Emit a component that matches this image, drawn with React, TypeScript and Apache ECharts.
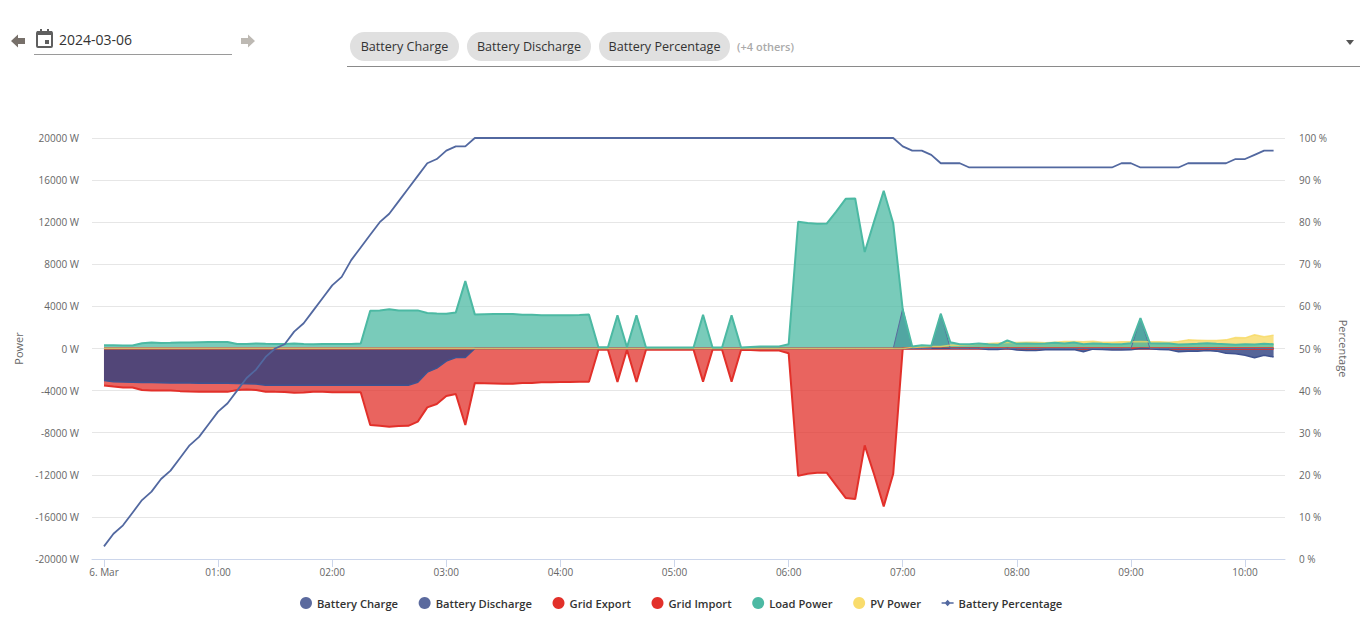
import React, { useEffect, useRef } from "react";
import * as echarts from "echarts";

const stepMinutes = 5;
const hourTicks = [0, 60, 120, 180, 240, 300, 360, 420, 480, 540, 600];
const powerTicksInterval = 4000;
const chips = ["Battery Charge", "Battery Discharge", "Battery Percentage"];
const legendNames = ["Battery Charge", "Battery Discharge", "Grid Export", "Grid Import", "Load Power", "PV Power", "Battery Percentage"];

const loadPower = [
  300,300,290,290,500,570,530,540,560,570,600,610,620,620,430,430,480,440,420,420,470,430,400,420,430,430,430,470,
  3590,3620,3720,3600,3600,3620,3380,3320,3300,3430,6400,
  3240,3260,3280,3280,3280,3200,3200,3150,3150,3170,3170,3190,3220,
  120,120,3150,120,3150,100,100,100,100,100,100,3200,100,100,3150,100,150,200,200,200,400,
  12040,11920,11850,11870,13000,14220,14250,9170,12100,14980,11900,3700,200,300,250,3300,600,400,
  410,475,410,350,760,440,475,440,475,540,475,570,410,475,440,410,410,500,2880,500,475,475,380,410,440,500,440,410,350,410,380,440,410,
];
const gridImport = [
  -3520,-3620,-3700,-3700,-3950,-4000,-4000,-4000,-4050,-4080,-4100,-4120,-4120,-4120,-3950,-3900,-3950,-4100,-4120,-4130,-4200,-4180,-4120,-4120,-4150,-4150,-4150,-4150,
  -7270,-7350,-7430,-7370,-7350,-6950,-5590,-5270,-4510,-4320,-7270,
  -3280,-3300,-3320,-3340,-3340,-3280,-3280,-3200,-3200,-3180,-3180,-3160,-3160,
  -120,-120,-3180,-120,-3180,-120,-120,-120,-120,-120,-120,-3150,-120,-120,-3150,-120,-150,-180,-180,-200,-450,
  -12100,-11900,-11800,-11800,-13000,-14200,-14300,-9200,-12000,-15000,-11900,
  0,0,0,0,0,0,0,0,0,0,0,0,0,0,0,0,0,0,0,0,
  0,0,0,0,0,0,0,0,0,0,0,0,0,0,0,0,0,0,0,0,
];
const batteryDischarge = [
  -3040,-3150,-3180,-3200,-3220,-3240,-3250,-3270,-3270,-3280,-3290,-3300,-3300,-3300,-3320,-3340,-3370,
  -3500,-3500,-3500,-3500,-3500,-3500,-3500,-3500,-3500,-3500,-3500,-3500,-3500,-3500,-3500,-3500,
  -3200,-2250,-1870,-1200,-860,-850,
  0,0,0,0,0,0,0,0,0,0,0,0,0,0,0,0,0,0,0,0,0,0,0,0,0,0,0,
  0,0,0,0,0,0,0,0,0,0,0,0,0,0,0,0,0,0,0,0,0,0,0,0,0,0,0,
  -100,-100,0,-150,-200,-180,-120,-130,-130,-100,-300,-60,-100,-150,-150,-130,0,-20,-100,-130,-300,-250,-250,-200,-250,-450,-500,-650,-880,-650,-800,
];
const batteryCharge = [
  0,0,0,0,0,0,0,0,0,0,0,0,0,0,0,0,0,0,0,0,0,0,0,0,0,0,0,0,
  0,0,0,0,0,0,0,0,0,0,0,0,0,0,0,0,0,0,0,0,0,0,0,0,0,0,0,0,
  0,0,0,0,0,0,0,0,0,0,0,0,0,0,0,0,0,0,0,0,0,0,0,0,0,0,0,0,
  3800,0,0,0,3300,
  0,0,0,0,0,0,0,0,0,0,0,0,0,0,0,0,0,0,0,0,
  2880,
  0,0,0,0,0,0,0,0,0,0,0,0,0,0,
];
const gridExport = [
  0,0,0,0,0,0,0,0,0,0,0,0,0,0,0,0,0,0,0,0,0,0,0,0,0,0,0,0,0,0,0,
  0,0,0,0,0,0,0,0,0,0,0,0,0,0,0,0,0,0,0,0,0,0,0,0,0,0,0,0,0,0,0,
  0,0,0,0,0,0,0,0,0,0,0,0,0,0,0,0,0,0,0,0,0,0,0,0,0,0,0,0,0,0,0,
  0,0,0,0,0,0,0,0,0,0,0,0,0,0,0,0,0,0,0,0,0,0,0,0,0,0,0,0,0,0,0,
];
const pvPower = [
  0,0,0,0,0,0,0,0,0,0,0,0,0,0,0,0,0,0,0,0,0,0,0,0,0,0,0,0,0,0,
  0,0,0,0,0,0,0,0,0,0,0,0,0,0,0,0,0,0,0,0,0,0,0,0,0,0,0,0,0,0,
  0,0,0,0,0,0,0,0,0,0,0,0,0,0,0,0,0,0,0,0,0,0,0,0,0,
  100,150,200,200,300,300,350,420,470,520,560,
  570,600,600,540,600,660,660,630,700,600,600,630,630,660,630,630,600,660,
  820,790,760,760,820,1050,1010,1300,1110,1270,
];
const batteryPercent = [
  3,6,8,11,14,16,19,21,24,27,29,32,
  35,37,40,43,45,48,50,51,54,56,59,62,65,67,71,74,77,80,82,85,88,91,94,95,97,98,98,
  100,100,100,100,100,100,100,100,100,100,100,100,100,100,100,
  100,100,100,100,100,100,100,100,100,100,100,100,100,100,100,
  100,100,100,100,100,100,100,100,100,100,100,100,100,100,100,
  98,97,97,96,94,94,94,93,
  93,93,93,93,93,93,93,93,93,93,93,93,93,93,93,
  94,94,
  93,93,93,93,93,
  94,94,94,94,94,
  95,95,96,97,97,
];

const withTime = (arr: number[]) => arr.map((v, i) => [i * stepMinutes, v]);

const areaSeries = (name: string, data: number[], legendColor: string, lineColor: string, lineWidth: number, lineOpacity: number, fill: string, fillOpacity: number) => ({
  name,
  type: "line",
  data: withTime(data),
  showSymbol: false,
  symbol: "none",
  yAxisIndex: 0,
  itemStyle: { color: legendColor },
  lineStyle: { color: lineColor, width: lineWidth, opacity: lineOpacity },
  areaStyle: { color: fill, opacity: fillOpacity, origin: 0 },
});

const fmtHour = (v: number) => {
  if (v === 0) return "6. Mar";
  const h = Math.round(v / 60);
  return (h < 10 ? "0" : "") + h + ":00";
};

const percentIcon = "path://M0 5.2H4L6.5 2.6L9 5.2H13V6.8H9L6.5 9.4L4 6.8H0Z";

function chipGraphics() {
  const boxes = [[350, 109], [467, 124], [599, 131]];
  const out: any[] = [];
  chips.forEach((label, i) => {
    out.push({ type: "rect", shape: { x: boxes[i][0], y: 32, width: boxes[i][1], height: 29, r: 14.5 }, style: { fill: "#e0e0e0" } });
    out.push({ type: "text", style: { x: boxes[i][0] + boxes[i][1] / 2, y: 46.5, text: label, align: "center", verticalAlign: "middle", fill: "#333", font: "12.6px 'Open Sans'" } });
  });
  return out;
}

export default function App() {
  const ref = useRef<HTMLDivElement>(null);
  useEffect(() => {
    const chart = echarts.init(ref.current!, undefined, { renderer: "svg" });
    chart.setOption({
      animation: false,
      backgroundColor: "#fff",
      textStyle: { fontFamily: "'Open Sans'" },
      grid: { left: 92, right: 83, top: 138, bottom: 71, containLabel: false },
      legend: {
        show: true,
        left: 295,
        top: 592,
        itemWidth: 12,
        itemHeight: 12,
        itemGap: 20.6,
        textStyle: { color: "#333", fontSize: 11.2, fontWeight: 600, fontFamily: "'Open Sans'" },
        data: legendNames.map((name) =>
          name === "Battery Percentage" ? { name, icon: percentIcon } : { name, icon: "circle" }
        ),
      },
      xAxis: {
        type: "value",
        min: -6.3,
        max: 621,
        axisLine: { onZero: false, lineStyle: { color: "#ccd6eb", width: 1 } },
        axisTick: { show: true, length: 8, lineStyle: { color: "#ccd6eb" }, customValues: hourTicks },
        splitLine: { show: false },
        axisLabel: {
          color: "#666",
          fontSize: 10,
          margin: 8,
          customValues: hourTicks,
          formatter: (v: number) => fmtHour(v),
        },
      },
      yAxis: [
        {
          type: "value",
          min: -20000,
          max: 20000,
          interval: powerTicksInterval,
          name: "Power",
          nameLocation: "middle",
          nameRotate: 90,
          nameGap: 63,
          nameTextStyle: { color: "#666", fontSize: 11 },
          axisLine: { show: false },
          axisTick: { show: false },
          splitLine: { lineStyle: { color: "#e6e6e6", width: 1 } },
          axisLabel: { color: "#666", fontSize: 10, margin: 13, padding: [0, 0, 1, 0], formatter: (v: number) => v + " W" },
        },
        {
          type: "value",
          min: 0,
          max: 100,
          interval: 10,
          name: "Percentage",
          nameLocation: "middle",
          nameRotate: -90,
          nameGap: 48,
          nameTextStyle: { color: "#666", fontSize: 11 },
          position: "right",
          axisLine: { show: false },
          axisTick: { show: false },
          splitLine: { show: false },
          axisLabel: { color: "#666", fontSize: 10, margin: 14, padding: [0, 0, 1, 0], formatter: (v: number) => v + " %" },
        },
      ],
      series: [
        areaSeries("Grid Export", gridExport, "#e2302a", "#e2302a", 2, 1, "#e2302a", 0.75),
        areaSeries("Grid Import", gridImport, "#e2302a", "#e2302a", 2, 1, "#e2302a", 0.75),
        areaSeries("Battery Discharge", batteryDischarge, "#5b6a9e", "#3f5290", 1.5, 1, "#2c3e7e", 0.8),
        areaSeries("Battery Charge", batteryCharge, "#5b6a9e", "#5b6a9e", 1, 1, "#2c3e7e", 0.75),
        areaSeries("PV Power", pvPower, "#f9dc6c", "#f7d85f", 1.5, 0.75, "#f7d85f", 0.75),
        areaSeries("Load Power", loadPower, "#4cb9a3", "#4cb9a3", 2, 1, "#4cb9a3", 0.75),
        {
          name: "Battery Percentage",
          type: "line",
          yAxisIndex: 1,
          data: withTime(batteryPercent),
          showSymbol: false,
          symbol: "none",
          itemStyle: { color: "#5268a0" },
          lineStyle: { color: "#5268a0", width: 1.8 },
        },
      ],
      graphic: {
        elements: [
          { type: "polygon", shape: { points: [[11, 41], [18, 34.5], [18, 38], [25, 38], [25, 44], [18, 44], [18, 47.5]] }, style: { fill: "#77706a" } },
          { type: "rect", shape: { x: 37, y: 32, width: 15, height: 15, r: 1 }, style: { fill: "none", stroke: "#5f5f5f", lineWidth: 2 } },
          { type: "rect", shape: { x: 37, y: 31, width: 15, height: 4 }, style: { fill: "#5f5f5f" } },
          { type: "rect", shape: { x: 40, y: 29, width: 2, height: 3 }, style: { fill: "#5f5f5f" } },
          { type: "rect", shape: { x: 47, y: 29, width: 2, height: 3 }, style: { fill: "#5f5f5f" } },
          { type: "rect", shape: { x: 45, y: 40, width: 4, height: 4 }, style: { fill: "#5f5f5f" } },
          { type: "text", style: { x: 59, y: 39.5, text: "2024-03-06", verticalAlign: "middle", fill: "#333", font: "14px 'Open Sans'" } },
          { type: "line", shape: { x1: 34, y1: 54.5, x2: 232, y2: 54.5 }, style: { stroke: "#9a9a9a", lineWidth: 1 } },
          { type: "polygon", shape: { points: [[255, 41], [248, 34.5], [248, 38], [241, 38], [241, 44], [248, 44], [248, 47.5]] }, style: { fill: "#bdb9b3" } },
          ...chipGraphics(),
          { type: "text", style: { x: 737, y: 46.5, text: "(+4 others)", verticalAlign: "middle", fill: "#aaa", font: "600 11px 'Open Sans'" } },
          { type: "polygon", shape: { points: [[1346, 40], [1354, 40], [1350, 45]] }, style: { fill: "#555" } },
          { type: "line", shape: { x1: 347, y1: 66.5, x2: 1360, y2: 66.5 }, style: { stroke: "#8a8a8a", lineWidth: 1 } },
        ],
      },
    });
    return () => chart.dispose();
  }, []);
  return <div ref={ref} style={{ position: "absolute", left: 0, top: 0, width: 1368, height: 630 }} />;
}
